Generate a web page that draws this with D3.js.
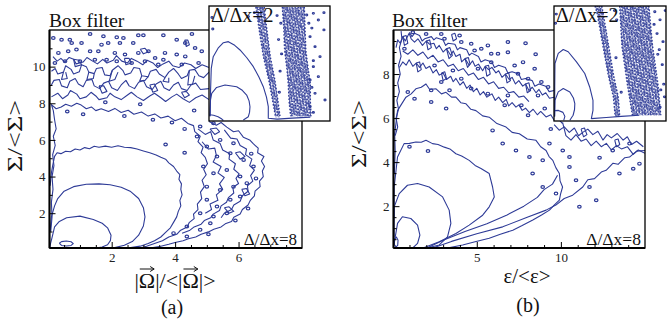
<!DOCTYPE html>
<html><head><meta charset="utf-8">
<script src="https://cdn.jsdelivr.net/npm/d3@7"></script>
<style>
body{margin:0;background:#fff}
svg{display:block}
svg text{font-family:"Liberation Serif","Times New Roman",serif}
</style>
</head><body>
<svg id="chart" width="667" height="320"></svg>
<script>
// ---------- panel (a): vorticity magnitude vs. normalised sigma ----------
const aXMajor = [2, 4, 6];
const aXMinor = [0.5,1,1.5,2.5,3,3.5,4.5,5,5.5,6.5,7,7.5];
const aYMajor = [2, 4, 6, 8, 10];
const aYMinor = [1,3,5,7,9,11];

const aLevel1 = [[0.35,0.36],[0.42,0.45],[0.57,0.48],[0.72,0.44],[0.79,0.34],[0.72,0.24],[0.57,0.21],[0.42,0.24],[0.35,0.36]];
const aLevel2 = [[0.05,0.15],[0.08,0.4],[0.11,0.6],[0.2,1.25],[0.35,1.55],[0.58,1.75],[1.0,1.84],[1.42,1.66],[1.7,1.45],[1.87,1.2],[1.98,0.8],[1.96,0.5],[1.87,0.28],[1.7,0.15],[1.5,0.1]];
const aLevel3 = [[0.06,1.0],[0.1,1.8],[0.2,2.4],[0.3,2.8],[0.5,3.2],[0.8,3.45],[1.2,3.58],[1.6,3.6],[1.95,3.55],[2.3,3.42],[2.6,3.18],[2.85,2.8],[3.0,2.3],[3.05,1.8],[3.0,1.3],[2.85,0.8],[2.65,0.45],[2.4,0.25],[2.1,0.12],[1.8,0.1]];
const aLevel4 = [[0.06,3.5],[0.1,4.2],[0.14,4.6],[0.2,5.1],[0.28,5.3],[0.4,5.25],[0.55,5.38],[0.7,5.35],[0.85,5.5],[1.0,5.45],[1.15,5.58],[1.3,5.52],[1.45,5.65],[1.6,5.6],[1.8,5.66],[2.0,5.6],[2.2,5.68],[2.4,5.6],[2.6,5.58],[2.8,5.5],[3.0,5.4],[3.2,5.3],[3.4,5.18],[3.55,5.05],[3.7,4.95],[3.8,4.75],[3.95,4.55],[4.05,4.3],[4.15,4.1],[4.12,3.85],[4.2,3.6],[4.18,3.3],[4.22,3.0],[4.15,2.7],[4.18,2.4],[4.1,2.1],[4.05,1.8],[3.95,1.5],[3.85,1.2],[3.7,0.95],[3.55,0.7],[3.35,0.5],[3.15,0.35],[2.9,0.2],[2.6,0.12],[2.2,0.1]];
const aLevel5 = [[0.08,1.0],[0.12,1.8],[0.1,2.6],[0.15,3.3],[0.12,4.0],[0.18,4.6],[0.14,5.2],[0.22,5.7],[0.16,6.2],[0.25,6.6],[0.2,7.1],[0.16,7.6],[0.1,7.93],[0.25,7.7],[0.41,7.8],[0.55,7.95],[0.73,7.84],[0.9,8.0],[1.04,7.9],[1.2,7.7],[1.36,7.8],[1.5,7.6],[1.67,7.7],[1.9,7.55],[2.1,7.72],[2.3,7.5],[2.52,7.62],[2.7,7.4],[2.94,7.52],[3.15,7.3],[3.36,7.42],[3.55,7.2],[3.78,7.3],[4.0,7.05],[4.2,7.18],[4.4,6.9],[4.58,6.78],[4.62,6.45],[4.79,6.2],[4.72,5.9],[4.88,5.6],[4.82,5.3],[4.95,5.05],[5.02,4.7],[4.9,4.4],[4.98,4.1],[4.85,3.8],[4.92,3.45],[4.8,3.15],[4.84,2.8],[4.7,2.5],[4.72,2.2],[4.58,1.95],[4.6,1.7],[4.45,1.5],[4.38,1.25],[4.16,1.05],[4.05,0.85],[3.8,0.7],[3.6,0.5],[3.35,0.35],[3.1,0.2],[2.9,0.1]];
const aOuter = [[5.07,7.0],[5.3,6.8],[5.45,6.95],[5.63,6.7],[5.84,6.45],[6.0,6.5],[6.15,6.15],[6.35,6.0],[6.47,5.78],[6.62,5.55],[6.6,5.3],[6.8,5.1],[6.72,4.85],[6.82,4.55],[6.75,4.3],[6.78,4.0],[6.66,3.75],[6.68,3.45],[6.52,3.2],[6.5,2.95],[6.37,2.7],[6.3,2.45],[6.12,2.2],[6.05,1.95],[5.85,1.78],[5.78,1.55],[5.58,1.42],[5.45,1.25],[5.22,1.12],[5.05,0.98],[4.82,0.85],[4.65,0.7],[4.42,0.6],[4.25,0.5],[4.0,0.4],[3.8,0.3],[3.55,0.2],[3.3,0.13],[3.1,0.1]];
const aRightBand = [[4.72,6.6],[4.95,6.3],[5.12,6.45],[5.2,6.0],[5.42,5.8],[5.5,5.45],[5.72,5.25],[5.7,4.95],[5.9,4.7],[5.85,4.4],[6.02,4.15],[5.92,3.9],[6.0,3.62],[5.82,3.4],[5.85,3.1],[5.68,2.85],[5.62,2.6],[5.45,2.4],[5.4,2.15],[5.2,1.95],[5.12,1.75],[4.92,1.6],[4.82,1.4],[4.6,1.25],[4.45,1.05],[4.22,0.9]];
const aRightBand2 = [[5.55,6.55],[5.75,6.1],[5.95,6.05],[6.05,5.7],[6.25,5.5],[6.22,5.2],[6.42,4.95],[6.35,4.6],[6.5,4.35],[6.38,4.05],[6.45,3.75],[6.28,3.5],[6.3,3.2],[6.12,2.95],[6.05,2.65],[5.85,2.45],[5.78,2.2],[5.55,2.0],[5.45,1.75]];
const aRightBand3 = [[4.85,5.9],[5.05,5.5],[5.25,5.55],[5.3,5.15],[5.2,4.8],[5.45,4.55],[5.35,4.2],[5.55,3.95],[5.4,3.6],[5.5,3.3],[5.3,3.0],[5.35,2.7],[5.1,2.5],[5.15,2.2],[4.95,2.0]];
const aTop1 = [[0.1,9.75],[0.22,9.9],[0.3,9.6],[0.48,9.7],[0.55,10.05],[0.72,9.85],[0.8,9.6],[0.98,9.72],[1.05,10.1],[1.2,10.0],[1.28,9.7],[1.45,9.62],[1.52,9.9],[1.7,9.95],[1.78,9.55],[1.95,9.5],[2.02,9.8],[2.2,10.05],[2.35,9.8],[2.42,9.55],[2.6,9.65],[2.7,9.95],[2.88,9.9],[2.95,9.5],[3.15,9.45],[3.22,9.75],[3.4,9.85],[3.5,9.6],[3.68,9.4],[3.8,9.7],[3.95,9.9],[4.1,9.6],[4.2,9.35],[4.38,9.5],[4.45,9.8],[4.62,9.85],[4.75,9.5],[4.9,9.4],[5.07,9.7]];
const aTop2 = [[0.1,9.0],[0.18,9.25],[0.35,9.3],[0.42,8.95],[0.6,8.85],[0.68,9.2],[0.85,9.35],[0.95,9.05],[1.1,8.9],[1.2,9.25],[1.38,9.3],[1.45,8.95],[1.62,8.8],[1.75,9.1],[1.9,9.2],[2.0,8.85],[2.18,8.7],[2.3,9.0],[2.45,9.25],[2.55,8.95],[2.72,8.8],[2.85,9.15],[3.0,9.25],[3.1,8.9],[3.28,8.75],[3.4,9.05],[3.55,9.2],[3.65,8.85],[3.82,8.7],[3.95,9.0],[4.1,9.15],[4.2,8.8],[4.38,8.7],[4.5,9.0],[4.65,9.1],[4.8,8.75],[5.07,8.8]];
const aTop3 = [[0.1,8.35],[0.3,8.55],[0.45,8.25],[0.62,8.45],[0.7,8.7],[0.9,8.5],[1.0,8.25],[1.2,8.35],[1.35,8.6],[1.5,8.4],[1.6,8.2],[1.85,8.3],[1.95,8.55],[2.1,8.35],[2.3,8.2],[2.5,8.45],[2.62,8.6],[2.8,8.35],[3.0,8.15],[3.2,8.4],[3.35,8.55],[3.55,8.3],[3.7,8.1],[3.9,8.35],[4.05,8.5],[4.25,8.25],[4.45,8.05],[4.65,8.3],[4.85,8.45],[5.07,8.2]];
const aTop4 = [[0.15,10.55],[0.28,10.3],[0.4,10.45],[0.52,10.25],[0.66,10.5],[0.8,10.4],[0.88,10.15],[1.1,10.25],[1.22,10.5],[1.4,10.3],[1.55,10.15],[1.72,10.4],[1.85,10.2],[2.05,10.35],[2.15,10.6],[2.32,10.3],[2.5,10.2],[2.62,10.45],[2.8,10.3],[2.98,10.1],[3.12,10.35],[3.3,10.2],[3.45,9.95],[3.62,10.15],[3.8,10.3],[3.92,10.05],[4.12,9.95],[4.3,10.2],[4.5,10.1],[4.65,9.9],[4.85,10.1],[5.07,9.95]];
const aLoops = [
  [[0.48,9.7],[0.42,9.3],[0.6,9.35],[0.55,9.7]],
  [[1.28,9.7],[1.22,9.3],[1.42,9.35],[1.45,9.62]],
  [[2.02,9.8],[1.92,9.2],[2.1,9.3],[2.2,9.7]],
  [[2.95,9.5],[2.88,9.2],[3.05,9.25],[3.15,9.45]],
  [[3.68,9.4],[3.62,9.2],[3.8,9.15],[3.8,9.4]],
  [[4.45,9.8],[4.4,9.0],[4.55,9.05],[4.62,9.5]],
  [[0.8,10.4],[0.85,10.0],[1.05,10.1],[0.98,10.35],[0.8,10.4]],
  [[2.4,10.45],[2.45,10.1],[2.62,10.2],[2.55,10.45],[2.4,10.45]],
  [[3.2,9.0],[3.3,8.6],[3.45,8.7],[3.35,9.05],[3.2,9.0]],
  [[1.6,8.95],[1.7,8.55],[1.85,8.65],[1.75,8.95],[1.6,8.95]],
  [[4.2,8.6],[4.3,8.3],[4.45,8.45],[4.35,8.65],[4.2,8.6]],
  [[2.9,10.95],[3.0,10.7],[3.15,10.8],[3.05,11.0],[2.9,10.95]],
  [[4.3,11.45],[4.35,11.1],[4.45,11.2],[4.4,11.45],[4.3,11.45]],
  [[5.1,6.6],[5.25,6.3],[5.4,6.45],[5.3,6.65],[5.1,6.6]],
  [[5.9,5.3],[6.05,4.95],[6.2,5.1],[6.05,5.35],[5.9,5.3]],
  [[6.1,3.3],[6.2,2.95],[6.35,3.05],[6.25,3.35],[6.1,3.3]],
  [[5.55,2.3],[5.7,2.0],[5.85,2.1],[5.7,2.35],[5.55,2.3]]
];
const aSpecks = [[1.32,11.78],[1.74,11.66],[2.16,11.6],[2.37,11.56],[2.84,11.71],[3.0,11.71],[3.63,11.71],[4.53,11.78],[4.05,11.47],[4.32,11.29],[0.16,11.56],[0.42,11.47],[0.68,11.47],[0.74,11.29],[1.05,11.29],[1.68,11.2],[1.89,11.29],[2.26,11.29],[2.68,11.29],[3.16,10.84],[3.68,10.75],[4.05,10.66],[0.32,10.75],[0.63,10.84],[0.89,10.93],[1.32,10.84],[1.58,10.84],[2.1,10.75],[2.42,10.66],[2.84,10.75],[3.37,10.47],[3.63,10.38],[4.32,10.56],[4.63,11.02],[4.84,10.84],[0.21,10.2],[0.53,10.29],[1.0,10.29],[1.47,10.38],[1.84,10.38],[2.16,10.29],[2.63,10.2],[3.05,10.29],[3.47,10.11],[4.21,10.11],[4.74,10.2],
  [4.79,6.73],[5.21,6.91],[4.69,6.18],[5.0,5.64],[5.42,6.0],[5.84,5.82],[5.32,5.09],[5.74,5.27],[6.16,4.91],[4.89,4.55],[5.21,4.18],[5.63,4.36],[6.05,4.0],[6.47,4.55],[5.0,3.45],[5.42,3.27],[5.84,3.45],[6.26,3.64],[5.0,2.73],[5.32,2.36],[5.74,2.73],[6.05,2.91],[4.79,2.0],[5.21,1.82],[5.63,2.0],[4.37,1.27],[4.79,1.09],[5.11,1.45],[3.95,0.91],[4.37,0.73],
  [0.6,7.55],[1.1,7.4],[2.4,7.3],[3.3,7.1],[3.9,6.95],[4.3,6.6],[1.8,8.05],[2.9,7.95],[4.6,7.6],[3.7,5.75],[4.3,5.3],[6.4,5.25],[6.55,3.9],[6.3,2.25],[5.9,1.6],[5.05,0.85]];

// inset (a): filter width twice the grid spacing
const aiLevel1 = [[0.05,0.65],[0.3,0.6],[0.6,0.45],[0.85,0.2],[0.95,0.05]];
const aiLevel2 = [[0.05,0.5],[0.1,2.2],[0.18,2.89],[0.5,3.5],[1.06,3.76],[1.83,3.58],[2.2,3.2],[2.49,2.71],[2.65,2.1],[2.71,1.49],[2.68,0.9],[2.6,0.45],[2.27,0.1]];
const aiLevel3 = [[0.08,0.5],[0.1,3.0],[0.15,5.5],[0.28,6.71],[0.6,7.6],[0.95,8.17],[1.28,8.28],[1.7,7.9],[2.05,7.41],[2.5,6.6],[2.93,5.67],[3.3,4.6],[3.59,3.58],[3.8,2.5],[3.92,1.49],[3.92,0.28],[4.5,0.2],[5.5,0.3],[6.7,0.4]];
const aiBand1Left = [[3.1,11.9],[3.35,9.2],[3.6,6.7],[3.95,4.3],[4.2,2.2],[4.4,0.4]];
const aiBand1Right = [[3.65,11.9],[3.85,9.2],[4.05,6.7],[4.35,4.3],[4.55,2.2],[4.7,0.4]];
const aiBand2Left = [[4.85,11.9],[4.95,9.5],[5.0,7.4],[5.15,5.5],[5.24,3.9],[5.3,2.0],[5.4,0.5]];
const aiBand2Right = [[6.3,11.9],[6.35,9.5],[6.4,7.4],[6.55,5.5],[6.7,3.9],[6.7,2.0],[6.75,0.5]];
const aiScatter = [[6.46,11.06],[6.9,11.24],[7.23,10.54],[7.6,9.5],[6.68,8.8],[7.01,7.76],[7.34,6.71],[6.9,5.67],[6.68,4.28],[7.23,4.62],[7.01,2.89],[7.67,2.19],[6.68,1.49],[7.6,11.3],[4.6,8.5],[4.7,5.2],[4.65,3.0],[4.5,11.0],[6.6,10.2],[6.8,9.7],[6.9,6.3],[6.8,3.5],[6.9,0.9],[4.75,10.2],[4.8,7.0],[0.2,10.8],[0.25,9.6],[2.6,10.9],[3.0,11.3]];

// ---------- panel (b): dissipation vs. normalised sigma ----------
const bXMajor = [5, 10];
const bXMinor = [1,2,3,4,6,7,8,9,11,12,13,14];
const bYMajor = [2, 4, 6, 8];
const bYMinor = [0.5,1,1.5,2.5,3,3.5,4.5,5,5.5,6.5,7,7.5,8.5,9,9.5];

const bLevel1 = [[0.1,0.25],[0.12,0.5],[0.22,0.6],[0.32,0.45],[0.3,0.22],[0.2,0.15],[0.1,0.25]];
const bLevel2 = [[0.08,0.3],[0.19,0.76],[0.29,1.22],[0.58,1.52],[1.08,1.44],[1.48,1.14],[1.62,0.69],[1.48,0.31],[1.18,0.09]];
const bLevel3 = [[0.08,0.6],[0.09,1.97],[0.39,2.57],[0.88,2.95],[1.48,3.03],[2.17,2.87],[2.97,2.42],[3.36,1.82],[3.46,1.22],[3.26,0.61],[2.77,0.24],[1.98,0.09]];
const bLevel4 = [[0.08,1.5],[0.09,2.87],[0.29,4.23],[0.68,4.84],[1.0,4.85],[1.38,4.91],[1.7,4.9],[1.98,4.99],[2.37,4.84],[2.7,4.8],[3.07,4.68],[3.4,4.6],[3.76,4.38],[4.1,4.28],[4.55,4.08],[4.9,3.85],[5.25,3.71],[5.74,3.48],[5.94,2.87],[6.04,2.42],[5.74,1.97],[5.35,1.59],[4.55,1.14],[3.76,0.76],[2.77,0.38],[1.77,0.09]];
const bLevel5 = [[0.1,3.5],[0.15,4.5],[0.12,5.3],[0.29,6.34],[0.5,6.6],[0.79,6.95],[1.1,7.1],[1.38,7.33],[1.7,7.4],[1.98,7.55],[2.2,7.3],[2.58,7.33],[2.9,7.1],[3.17,7.17],[3.5,6.95],[3.76,6.95],[4.05,6.7],[4.36,6.65],[4.65,6.4],[4.95,6.34],[5.35,6.1],[5.74,6.04],[6.2,5.75],[6.74,5.59],[7.1,5.35],[7.53,5.29],[8.0,5.05],[8.52,4.99],[8.8,4.7],[9.12,4.53],[9.3,4.25],[9.52,4.08],[9.7,3.75],[9.91,3.48],[9.95,3.15],[10.1,2.87],[9.98,2.55],[9.91,2.27],[9.6,2.05],[9.32,1.82],[8.85,1.6],[8.33,1.37],[7.7,1.12],[7.14,0.91],[6.4,0.72],[5.74,0.54],[4.9,0.38],[4.16,0.24],[3.4,0.12],[2.77,0.05]];
const bOuter = [[2.2,0.05],[3.5,0.4],[5.0,0.75],[6.54,1.06],[8.0,1.5],[9.12,1.82],[9.7,2.05],[10.2,2.35],[10.7,2.5],[11.3,2.87],[11.6,3.2],[12.0,3.25],[12.4,3.55],[12.69,3.63],[13.1,3.95],[13.4,3.9],[13.8,4.2],[14.08,4.23],[14.5,4.5],[15,4.53]];
const bMid = [[1.9,0.05],[3.0,0.45],[4.3,0.85],[5.6,1.2],[6.8,1.6],[7.8,2.0],[8.6,2.4],[9.0,2.75],[9.5,3.0],[9.8,3.4]];
const bTop1 = [[0.2,9.2],[0.3,9.55],[0.45,9.4],[0.6,9.7],[0.75,9.5],[0.98,9.85],[1.1,9.6],[1.3,9.45],[1.5,9.6],[1.77,9.3],[2.0,9.5],[2.2,9.35],[2.45,9.4],[2.6,9.15],[2.77,9.3],[3.0,9.0],[3.2,9.15],[3.45,8.85],[3.6,9.05],[3.76,8.8],[4.0,8.9],[4.1,8.55],[4.3,8.7],[4.55,8.4],[4.75,8.6],[4.9,8.35],[5.1,8.45],[5.35,8.15],[5.5,8.35],[5.7,8.2],[5.9,8.3],[6.14,8.05],[6.3,8.15],[6.5,7.85],[6.7,8.0],[6.93,7.75],[7.1,7.85],[7.3,7.55],[7.5,7.7],[7.73,7.45],[7.9,7.55],[8.1,7.25],[8.3,7.4],[8.52,7.15],[8.7,7.3],[8.9,7.05],[9.1,7.15],[9.32,6.9],[9.6,6.95]];
const bTop2 = [[0.4,8.3],[0.6,8.55],[0.8,8.4],[0.98,8.65],[1.2,8.35],[1.4,8.5],[1.6,8.3],[1.8,8.5],[1.98,8.25],[2.2,8.35],[2.4,8.05],[2.6,8.2],[2.77,7.95],[3.0,8.05],[3.2,7.75],[3.45,7.9],[3.6,7.65],[3.76,7.8],[4.0,7.5],[4.2,7.65],[4.4,7.35],[4.6,7.5],[4.8,7.2],[5.0,7.35],[5.2,7.05],[5.4,7.2],[5.6,6.95],[5.9,7.1],[6.1,6.8],[6.3,6.95],[6.54,6.7],[6.75,6.85],[6.9,6.55],[7.1,6.7],[7.33,6.5],[7.5,6.6],[7.7,6.35],[7.9,6.45],[8.13,6.25],[8.35,6.4],[8.6,6.15],[8.8,6.3],[9.12,6.05],[9.4,6.15],[9.6,5.9],[9.8,6.0],[10.1,5.75]];
const bTop3 = [[1.0,9.9],[1.15,9.7],[1.3,9.85],[1.6,9.75],[1.75,9.5],[1.9,9.6],[2.3,9.7],[2.45,9.55],[2.6,9.65],[3.0,9.55],[3.15,9.3],[3.3,9.4],[3.7,9.35],[3.85,9.1],[4.0,9.2],[4.4,9.1],[4.55,8.85],[4.7,8.95],[5.1,8.8],[5.25,8.55],[5.5,8.65],[5.9,8.55],[6.05,8.3],[6.3,8.4],[6.7,8.3],[6.85,8.05],[7.1,8.1],[7.5,8.0],[7.65,7.75],[7.9,7.8],[8.3,7.7],[8.45,7.45],[8.7,7.55],[9.1,7.45],[9.3,7.2],[9.6,7.25]];
const bTop4 = [[0.6,9.05],[0.9,8.9],[1.2,9.1],[1.5,8.85],[1.8,9.0],[2.1,8.7],[2.4,8.85],[2.7,8.55],[3.0,8.65],[3.3,8.35],[3.6,8.45],[3.9,8.15],[4.2,8.25],[4.5,7.95],[4.8,8.05],[5.1,7.75],[5.4,7.85],[5.7,7.55],[6.0,7.65],[6.3,7.35],[6.6,7.4],[6.9,7.15],[7.2,7.2],[7.5,6.95],[7.8,7.0],[8.1,6.75]];
const bLeftEdge = [[0.15,5.2],[0.3,5.6],[0.2,6.0],[0.35,6.4],[0.25,6.8],[0.4,7.2],[0.3,7.6],[0.45,8.0],[0.35,8.4],[0.5,8.8],[0.4,9.2],[0.55,9.6],[0.5,9.95]];
const bRight1 = [[9.6,5.7],[9.9,5.45],[10.2,5.6],[10.5,5.35],[10.8,5.55],[11.05,5.2],[11.3,5.35],[11.6,5.5],[11.9,5.25],[12.2,5.4],[12.5,5.0],[12.75,5.25],[13.0,5.1],[13.35,5.3],[13.7,5.0],[13.95,5.15],[14.2,4.8],[14.5,4.95],[14.9,4.7]];
const bRight2 = [[10.1,5.8],[10.3,5.2],[10.6,5.0],[10.9,5.25],[11.2,4.95],[11.5,5.05],[11.8,4.75],[12.1,4.95],[12.4,4.7],[12.7,4.85],[13.0,4.55],[13.3,4.75],[13.6,4.6],[13.95,4.7],[14.3,4.35],[14.6,4.55],[15,4.4]];
const bLoops = [
  [[0.6,9.7],[0.7,9.3],[0.9,9.4],[0.8,9.75],[0.6,9.7]],
  [[2.0,9.5],[2.1,9.1],[2.3,9.2],[2.2,9.55],[2.0,9.5]],
  [[3.2,9.15],[3.35,8.7],[3.55,8.85],[3.4,9.2],[3.2,9.15]],
  [[4.3,8.7],[4.45,8.3],[4.6,8.45],[4.5,8.75],[4.3,8.7]],
  [[5.5,8.35],[5.6,7.9],[5.8,8.0],[5.7,8.4],[5.5,8.35]],
  [[6.7,8.0],[6.8,7.6],[7.0,7.7],[6.9,8.05],[6.7,8.0]],
  [[7.9,7.55],[8.0,7.15],[8.2,7.25],[8.1,7.6],[7.9,7.55]],
  [[1.4,8.5],[1.5,8.1],[1.7,8.2],[1.6,8.55],[1.4,8.5]],
  [[2.9,8.05],[3.0,7.7],[3.2,7.8],[3.1,8.1],[2.9,8.05]],
  [[11.2,5.5],[11.35,5.15],[11.55,5.25],[11.4,5.55],[11.2,5.5]],
  [[13.2,5.0],[13.3,4.7],[13.5,4.8],[13.4,5.05],[13.2,5.0]],
  [[3.5,9.8],[3.6,9.5],[3.8,9.6],[3.7,9.85],[3.5,9.8]]
];
const bSpecks = [[0.7,9.15],[1.2,9.9],[1.99,9.82],[2.89,9.82],[3.08,9.6],[3.98,9.75],[4.08,9.45],[4.67,9.37],[4.87,9.07],[5.27,9.15],[5.66,9.3],[5.86,8.92],[6.26,8.92],[6.85,9.45],[6.85,8.99],[7.25,8.39],[7.75,8.54],[7.45,8.01],[8.44,8.24],[8.05,7.79],[8.84,7.64],[8.64,7.03],[9.24,7.41],[5.86,8.54],[5.07,8.24],[3.58,8.16],[2.49,8.39],[4.08,7.79],[4.67,7.34],[5.66,7.11],[2.29,7.26],[1.3,6.88],[0.9,7.18],[2.89,7.64],[3.38,7.26],[3.18,6.43],[2.29,6.73],[6.66,6.58],[7.65,6.58],[8.05,6.13],[9.04,6.43],[6.85,7.03],
  [5.94,5.44],[6.54,4.84],[7.33,4.53],[8.13,4.23],[8.92,4.08],[9.32,4.84],[8.32,3.48],[8.92,2.87],[9.71,2.57],[10.11,4.53],[10.51,3.78],[10.9,3.18],[11.7,2.87],[12.1,2.27],[11.1,1.97],[10.51,4.23],[13.08,4.53],[14.08,4.84],[14.67,3.93],[13.48,3.48],[1.0,4.7],[2.1,4.5],[7.9,9.4],[8.5,8.9],[9.4,5.5],[12.3,4.2],[14.3,3.7]];

// inset (b): filter width twice the grid spacing
const biLevel1 = [[0.1,0.9],[0.6,0.92],[1.2,0.75],[1.46,0.4],[1.3,0.06]];
const biLevel2 = [[0.08,0.4],[0.13,1.8],[0.57,2.53],[1.24,2.82],[2.12,2.53],[2.6,2.0],[2.79,1.52],[2.75,1.0],[2.56,0.5],[2.12,0.06]];
const biLevel3 = [[0.08,0.4],[0.1,3.0],[0.13,5.0],[0.57,5.88],[1.24,6.22],[1.9,6.02],[3.01,5.14],[4.12,4.13],[4.78,2.96],[5.22,1.8],[5.22,0.93],[5.0,0.21],[7.0,0.3],[9.0,0.4],[11.4,0.5]];
const biBand1Left = [[5.5,10],[5.8,9.3],[6.65,6.2],[7.3,3.9],[7.95,2.1],[8.2,0.4]];
const biBand1Right = [[6.4,10],[6.6,9.3],[7.4,6.2],[8.0,3.9],[8.6,2.1],[8.8,0.4]];
const biBand2Left = [[8.8,10],[9.1,6.5],[9.8,3.3],[10.5,0.5]];
const biBand2Right = [[12.7,10],[13.2,6.5],[13.9,3.3],[14.3,0.5]];
const biScatter = [[13.5,9.5],[14.2,8.8],[13.8,7.6],[14.6,6.9],[13.9,5.8],[14.5,4.9],[14.7,3.2],[14.8,2.1],[14.9,9.6],[14.2,1.2],[8.4,8.8],[8.3,5.5],[9.0,2.5],[13.4,8.4],[14.1,6.2],[14.3,2.7],[8.1,9.6],[0.2,8.5],[0.3,9.3]];

// ---------- drawing ----------
const svg = d3.select("#chart");
const BLUE = "#2e3b97";
const SERIF = "Liberation Serif";

const defs = svg.append("defs");
// two irregular dot tiles laid over each other give a stippled band
const pat = defs.append("pattern").attr("id", "dots").attr("patternUnits", "userSpaceOnUse")
  .attr("width", 6).attr("height", 6).attr("patternTransform", "rotate(17)");
[[0, 0], [3.1, 1.2], [1.3, 3.4], [4.4, 4.3], [2.5, 5.1], [5.0, 2.4], [0.4, 1.9]].forEach(p =>
  pat.append("rect").attr("x", p[0]).attr("y", p[1]).attr("width", 1.7).attr("height", 1.7).attr("fill", BLUE));
const pat2 = defs.append("pattern").attr("id", "dots2").attr("patternUnits", "userSpaceOnUse")
  .attr("width", 7).attr("height", 5).attr("patternTransform", "rotate(-38)");
[[0.5, 0.5], [4.2, 1.6], [2.2, 3.3], [5.6, 4.0], [3.0, 0.2]].forEach(p =>
  pat2.append("rect").attr("x", p[0]).attr("y", p[1]).attr("width", 1.5).attr("height", 1.5).attr("fill", BLUE));

function clipRect(id, x0, y0, x1, y1) {
  defs.append("clipPath").attr("id", id).append("rect")
    .attr("x", x0).attr("y", y0).attr("width", x1 - x0).attr("height", y1 - y0);
}

function drawLines(g, x, y, lines, width) {
  const line = d3.line().x(d => x(d[0])).y(d => y(d[1]));
  lines.forEach(l => g.append("path").attr("d", line(l)).attr("fill", "none")
    .attr("stroke", BLUE).attr("stroke-width", width).attr("stroke-linejoin", "round"));
}

function drawSpecks(g, x, y, pts, r) {
  g.selectAll(null).data(pts).join("ellipse")
    .attr("cx", d => x(d[0])).attr("cy", d => y(d[1]))
    .attr("rx", r * 1.25).attr("ry", r)
    .attr("fill", "none").attr("stroke", BLUE).attr("stroke-width", 1.2);
}

function drawBand(g, x, y, left, right) {
  const pts = left.concat(right.slice().reverse());
  const line = d3.line().x(d => x(d[0])).y(d => y(d[1]));
  g.append("path").attr("d", line(pts) + "Z").attr("fill", "url(#dots)");
  g.append("path").attr("d", line(pts) + "Z").attr("fill", "url(#dots2)");
  [left, right].forEach(l => g.append("path").attr("d", line(l)).attr("fill", "none")
    .attr("stroke", BLUE).attr("stroke-width", 1.4).attr("stroke-dasharray", "1.6 1.8"));
}

function axes(g, x, y, frame, xMajor, xMinor, yMajor, yMinor) {
  const [x0, y0, x1, y1] = frame;
  const ax = g.append("g").attr("transform", `translate(0,${y1})`);
  ax.call(d3.axisBottom(x).tickValues(xMajor).tickSize(-6).tickPadding(5).tickFormat(d3.format("d")));
  ax.append("g").call(d3.axisBottom(x).tickValues(xMinor).tickSize(-3).tickFormat(""));
  const ay = g.append("g").attr("transform", `translate(${x0},0)`);
  ay.call(d3.axisLeft(y).tickValues(yMajor).tickSize(-6).tickPadding(4).tickFormat(d3.format("d")));
  ay.append("g").call(d3.axisLeft(y).tickValues(yMinor).tickSize(-3).tickFormat(""));
  g.selectAll(".domain").remove();
  g.selectAll(".tick line").attr("stroke", "#000").attr("stroke-width", 1);
  g.selectAll(".tick text").attr("font-family", SERIF).attr("font-size", 13).attr("fill", "#222");
  g.append("rect").attr("x", x0).attr("y", y0).attr("width", x1 - x0).attr("height", y1 - y0)
    .attr("fill", "none").attr("stroke", "#000").attr("stroke-width", 1.3);
  g.append("line").attr("x1", x0).attr("x2", x0).attr("y1", y0).attr("y2", y1).attr("stroke", "#000").attr("stroke-width", 2);
  g.append("line").attr("x1", x0).attr("x2", x1).attr("y1", y1).attr("y2", y1).attr("stroke", "#000").attr("stroke-width", 2);
}

function text(str, px, py, size, anchor) {
  return svg.append("text").attr("x", px).attr("y", py).attr("font-size", size)
    .attr("font-family", SERIF).attr("text-anchor", anchor || "start").attr("fill", "#111").text(str);
}

function yTitle(px, py, len) {
  svg.append("text").attr("transform", `translate(${px},${py}) rotate(-90)`).attr("text-anchor", "middle")
    .attr("font-family", SERIF).attr("font-size", 22).attr("fill", "#111")
    .attr("textLength", len).attr("lengthAdjust", "spacingAndGlyphs").text("Σ/<Σ>");
}

// ----- panel (a) -----
{
  const frame = [49.5, 30, 302, 248];
  const x = d3.scaleLinear([0.04, 8], [frame[0], frame[2]]);
  const y = d3.scaleLinear([0.1, 12], [frame[3], frame[1]]);
  clipRect("clipA", frame[0], frame[1], frame[2], frame[3]);
  const g = svg.append("g").attr("clip-path", "url(#clipA)");
  drawLines(g, x, y, [aLevel1, aLevel2, aLevel3, aLevel4, aLevel5, aOuter, aRightBand, aRightBand2, aRightBand3, aTop1, aTop2, aTop3, aTop4].concat(aLoops), 1.1);
  drawSpecks(g, x, y, aSpecks, 1.4);
  axes(svg.append("g"), x, y, frame, aXMajor, aXMinor, aYMajor, aYMinor);

  const inset = [209, 6, 330, 121];
  const xi = d3.scaleLinear([0, 8], [inset[0], inset[2]]);
  const yi = d3.scaleLinear([0, 12], [inset[3], inset[1]]);
  svg.append("rect").attr("x", inset[0]).attr("y", inset[1]).attr("width", inset[2] - inset[0])
    .attr("height", inset[3] - inset[1]).attr("fill", "#fff");
  clipRect("clipAi", inset[0], inset[1], inset[2], inset[3]);
  const gi = svg.append("g").attr("clip-path", "url(#clipAi)");
  drawBand(gi, xi, yi, aiBand1Left, aiBand1Right);
  drawBand(gi, xi, yi, aiBand2Left, aiBand2Right);
  drawLines(gi, xi, yi, [aiLevel1, aiLevel2, aiLevel3], 1.1);
  drawSpecks(gi, xi, yi, aiScatter, 0.8);
  svg.append("rect").attr("x", inset[0]).attr("y", inset[1]).attr("width", inset[2] - inset[0])
    .attr("height", inset[3] - inset[1]).attr("fill", "none").attr("stroke", "#000").attr("stroke-width", 1.3);

  text("Box filter", 49, 27, 19.5);
  text("Δ/Δx=2", 211, 22, 20);
  text("Δ/Δx=8", 297, 245, 17, "end");
  yTitle(22, 136, 72);
  const xl = text("|Ω|/<|Ω|>", 175, 288, 22, "middle");
  [1, 6].forEach(i => {
    const e = xl.node().getExtentOfChar(i);
    const ax0 = e.x + 1, ax1 = e.x + e.width - 1, ay = e.y + 1;
    svg.append("line").attr("x1", ax0).attr("x2", ax1).attr("y1", ay).attr("y2", ay).attr("stroke", "#111").attr("stroke-width", 1);
    svg.append("path").attr("d", `M${ax1 - 4},${ay - 2.5}L${ax1},${ay}L${ax1 - 4},${ay + 2.5}`)
      .attr("fill", "none").attr("stroke", "#111").attr("stroke-width", 1);
  });
  text("(a)", 172, 314, 20, "middle");
}

// ----- panel (b) -----
{
  const frame = [393.5, 30, 645, 248];
  const x = d3.scaleLinear([0.05, 15], [frame[0], frame[2]]);
  const y = d3.scaleLinear([0.1, 10], [frame[3], frame[1]]);
  clipRect("clipB", frame[0], frame[1], frame[2], frame[3]);
  const g = svg.append("g").attr("clip-path", "url(#clipB)");
  drawLines(g, x, y, [bLevel1, bLevel2, bLevel3, bLevel4, bLevel5, bOuter, bMid, bTop1, bTop2, bTop3, bTop4, bLeftEdge, bRight1, bRight2].concat(bLoops), 1.1);
  drawSpecks(g, x, y, bSpecks, 1.4);
  axes(svg.append("g"), x, y, frame, bXMajor, bXMinor, bYMajor, bYMinor);

  const inset = [554, 6, 666, 121];
  const xi = d3.scaleLinear([0, 15], [inset[0], inset[2]]);
  const yi = d3.scaleLinear([0, 10], [inset[3], inset[1]]);
  svg.append("rect").attr("x", inset[0]).attr("y", inset[1]).attr("width", inset[2] - inset[0])
    .attr("height", inset[3] - inset[1]).attr("fill", "#fff");
  clipRect("clipBi", inset[0], inset[1], inset[2], inset[3]);
  const gi = svg.append("g").attr("clip-path", "url(#clipBi)");
  drawBand(gi, xi, yi, biBand1Left, biBand1Right);
  drawBand(gi, xi, yi, biBand2Left, biBand2Right);
  drawLines(gi, xi, yi, [biLevel1, biLevel2, biLevel3], 1.1);
  drawSpecks(gi, xi, yi, biScatter, 0.8);
  svg.append("rect").attr("x", inset[0]).attr("y", inset[1]).attr("width", inset[2] - inset[0])
    .attr("height", inset[3] - inset[1]).attr("fill", "none").attr("stroke", "#000").attr("stroke-width", 1.3);

  text("Box filter", 392, 27, 19.5);
  text("Δ/Δx=2", 556, 22, 20);
  text("Δ/Δx=8", 641, 245, 17.5, "end");
  yTitle(366, 134, 68);
  text("ε/<ε>", 527, 283, 21, "middle");
  text("(b)", 528, 312, 20, "middle");
}
</script>
</body></html>
